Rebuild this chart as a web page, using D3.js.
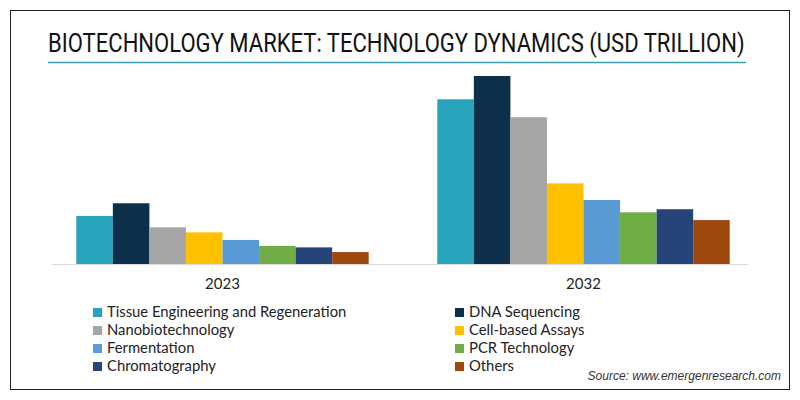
<!DOCTYPE html>
<html>
<head>
<style>
  body { margin: 0; background: #fff; }
</style>
</head>
<body>
<svg width="800" height="400"></svg>
<script src="https://d3js.org/d3.v7.min.js"></script>
<script>
    const years = ["2023", "2032"];
    const segments = ["Tissue Engineering and Regeneration", "DNA Sequencing", "Nanobiotechnology",
        "Cell-based Assays", "Fermentation", "PCR Technology", "Chromatography", "Others"];
    const values2023 = [0.266, 0.336, 0.203, 0.175, 0.133, 0.100, 0.092, 0.066];
    const values2032 = [0.911, 1.040, 0.812, 0.446, 0.354, 0.286, 0.303, 0.243];
    const colors = ["#27a3bb", "#0e2f4a", "#a5a5a5", "#ffc000", "#5b9bd5", "#70ad47", "#264478", "#9e480e"];

    const svg = d3.select("svg");

    // frame
    svg.append("rect")
        .attr("x", 10.5).attr("y", 10.5)
        .attr("width", 779).attr("height", 379)
        .attr("fill", "none").attr("stroke", "#222").attr("stroke-width", 1);

    // title, squeezed horizontally to the reference width
    const title = svg.append("text")
        .attr("x", 0).attr("y", 0)
        .attr("font-family", "Roboto, sans-serif")
        .attr("font-size", 25)
        .attr("fill", "#111")
        .text("BIOTECHNOLOGY MARKET: TECHNOLOGY DYNAMICS (USD TRILLION)");
    const tw = title.node().getComputedTextLength();
    title.attr("transform", "translate(48,52) scale(" + (697 / tw) + ",1)");

    svg.append("line")
        .attr("x1", 48).attr("x2", 746)
        .attr("y1", 62.5).attr("y2", 62.5)
        .attr("stroke", "#3a9fb0").attr("stroke-width", 1.5);

    const baseline = 264;
    const y = d3.scaleLinear().domain([0, 1.04]).range([baseline, 76]);
    const x0 = d3.scaleBand().domain(years).range([42, 764]).paddingInner(0.19).paddingOuter(0.095);
    const x1 = d3.scaleBand().domain(segments).range([0, x0.bandwidth()]);

    const table = years.map((yr, i) => ({
        year: yr,
        vals: segments.map((s, j) => ({ key: s, value: (i === 0 ? values2023 : values2032)[j], color: colors[j] }))
    }));

    // axis line
    svg.append("line")
        .attr("x1", 52).attr("x2", 748)
        .attr("y1", baseline + 0.5).attr("y2", baseline + 0.5)
        .attr("stroke", "#d9d9d9").attr("stroke-width", 1);

    const group = svg.selectAll(".grp")
        .data(table)
        .enter().append("g")
        .attr("class", "grp")
        .attr("transform", d => "translate(" + x0(d.year) + ",0)");

    group.selectAll("rect")
        .data(d => d.vals)
        .enter().append("rect")
        .attr("x", d => x1(d.key))
        .attr("y", d => y(d.value))
        .attr("width", x1.bandwidth())
        .attr("height", d => baseline - y(d.value))
        .attr("fill", d => d.color);

    const xAxis = svg.append("g")
        .attr("transform", "translate(0," + baseline + ")")
        .call(d3.axisBottom(x0).tickSize(0).tickPadding(14));
    xAxis.select(".domain").remove();
    xAxis.selectAll("text")
        .attr("font-family", "Lato, sans-serif")
        .attr("font-size", 15)
        .attr("fill", "#222");

    // legend
    const legend = svg.selectAll(".leg")
        .data(segments)
        .enter().append("g")
        .attr("class", "leg")
        .attr("transform", (d, i) => "translate(" + (i % 2 === 0 ? 93 : 455) + "," + (312 + Math.floor(i / 2) * 18) + ")");

    legend.append("rect")
        .attr("x", 0).attr("y", -4)
        .attr("width", 9).attr("height", 9)
        .attr("fill", (d, i) => colors[i]);

    legend.append("text")
        .attr("x", 14).attr("y", 0)
        .attr("dy", "0.35em")
        .attr("font-family", "Lato, sans-serif")
        .attr("font-size", 14.8)
        .attr("fill", "#222")
        .text(d => d);

    svg.append("text")
        .attr("x", 781).attr("y", 380)
        .attr("text-anchor", "end")
        .attr("font-family", "Arial, 'Liberation Sans', sans-serif")
        .attr("font-style", "italic")
        .attr("font-size", 12)
        .attr("fill", "#333")
        .text("Source: www.emergenresearch.com");
</script>
</body>
</html>
